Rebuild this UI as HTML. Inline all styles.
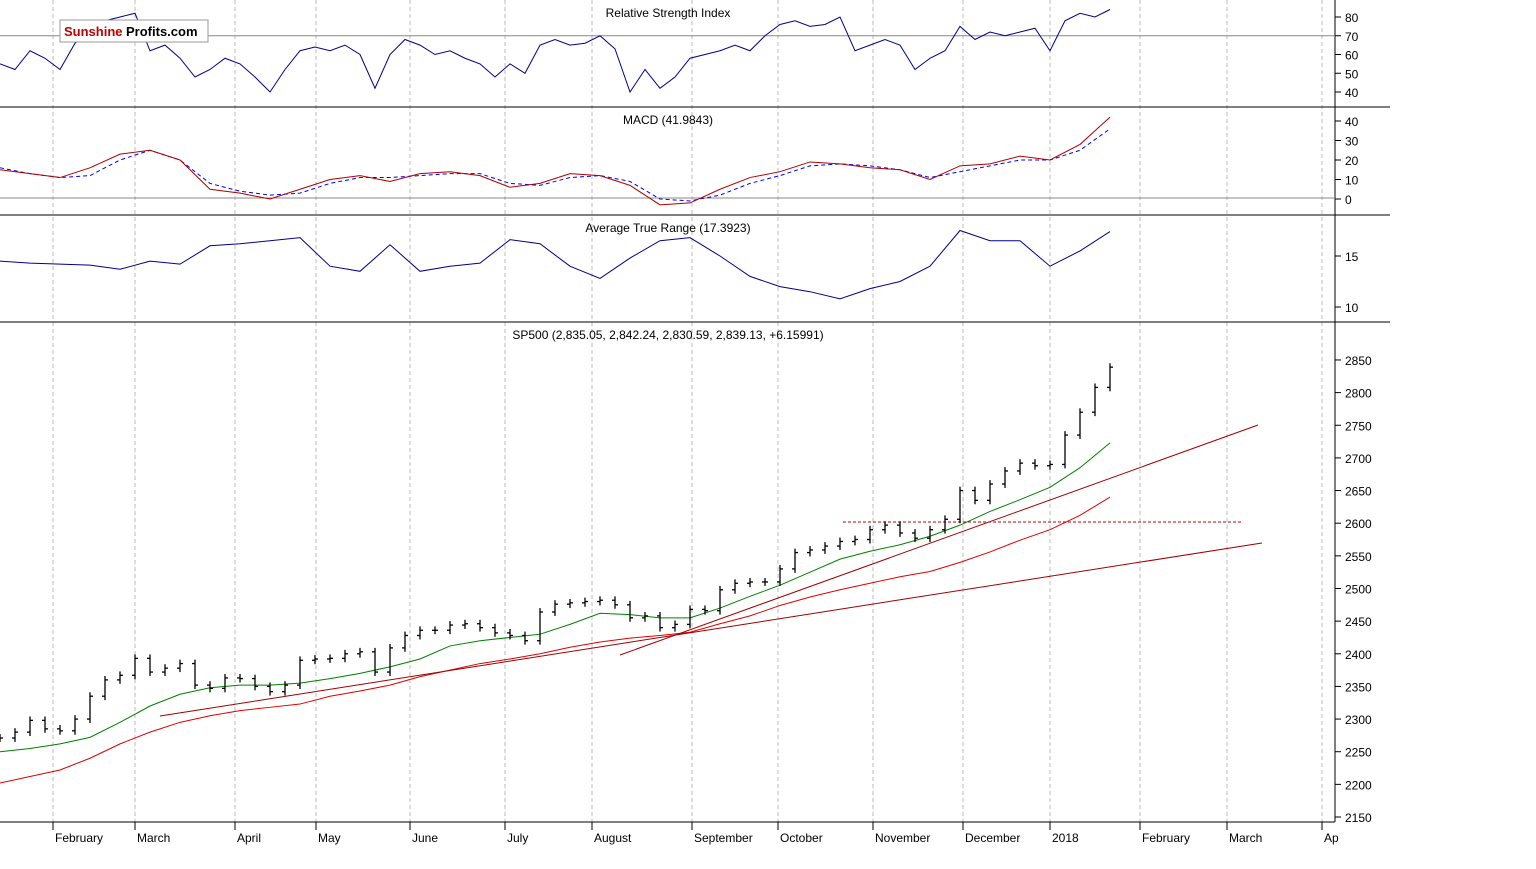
<!DOCTYPE html>
<html><head><meta charset="utf-8"><style>
body{margin:0;background:#fff;font-family:"Liberation Sans",Arial,sans-serif}
svg text{font-family:"Liberation Sans",Arial,sans-serif;font-size:12px;fill:#000}
</style></head><body>
<svg id="c" width="1536" height="864" xmlns="http://www.w3.org/2000/svg"></svg>
<script>
const priceClose=[2271,2280,2298,2285,2282,2300,2335,2360,2367,2393,2372,2378,2385,2352,2347,2363,2362,2350,2342,2352,2390,2392,2393,2400,2403,2372,2409,2428,2436,2436,2444,2446,2440,2432,2428,2420,2464,2476,2478,2480,2482,2475,2455,2458,2440,2445,2468,2466,2498,2508,2510,2510,2530,2555,2559,2565,2572,2575,2590,2597,2585,2577,2590,2606,2650,2635,2660,2680,2692,2688,2690,2735,2770,2808,2839];
const ma50=[2250,2255,2262,2272,2295,2320,2338,2348,2352,2352,2355,2362,2370,2380,2392,2412,2420,2425,2430,2445,2462,2460,2455,2455,2470,2488,2505,2525,2545,2557,2567,2580,2597,2618,2636,2655,2685,2723];
const ma200=[2202,2212,2222,2240,2262,2280,2295,2305,2313,2318,2323,2335,2343,2352,2365,2375,2385,2392,2400,2410,2418,2424,2428,2433,2446,2458,2474,2487,2498,2508,2518,2526,2540,2556,2574,2590,2612,2640];
const rsi=[55,52,62,58,52,66,72,78,80,82,62,65,58,48,52,58,55,48,40,52,62,64,62,65,60,42,60,68,65,60,62,58,55,48,55,50,65,68,65,66,70,63,40,52,42,48,58,60,62,65,62,70,76,78,75,76,80,62,65,68,65,52,58,62,75,68,72,70,72,74,62,78,82,80,84];
const macd=[15,13,11,16,23,25,20,5,3,0,5,10,12,9,13,14,12,6,8,13,12,7,-3,-2,5,11,14,19,18,16,15,10,17,18,22,20,28,42];
const macdSignal=[16,13,11,12,20,25,20,8,4,2,3,8,11,11,12,13,13,8,7,11,12,9,0,-1,2,8,12,17,18,17,15,11,14,17,20,20,25,36];
const atr=[14.5,14.3,14.2,14.1,13.7,14.5,14.2,16.0,16.2,16.5,16.8,14.0,13.5,16.1,13.5,14.0,14.3,16.6,16.2,14.0,12.8,14.8,16.5,16.8,15.0,13.0,12.0,11.5,10.8,11.8,12.5,14.0,17.5,16.5,16.5,14.0,15.5,17.4];
const priceTicks=[2150,2200,2250,2300,2350,2400,2450,2500,2550,2600,2650,2700,2750,2800,2850];
const rsiTicks=[40,50,60,70,80];
const macdTicks=[0,10,20,30,40];
const atrTicks=[10,15];
const months=["February","March","April","May","June","July","August","September","October","November","December","2018","February","March","Ap"];
const monthX=[53,135,235,316,410,505,592,692,778,873,963,1050,1140,1227,1322];

const NS="http://www.w3.org/2000/svg",svg=document.getElementById('c');
function mk(t,a,p){const e=document.createElementNS(NS,t);for(const k in a)e.setAttribute(k,a[k]);(p||svg).appendChild(e);return e;}
const yP=v=>817-(v-2150)*0.6529, yR=v=>17+(80-v)*1.875, yM=v=>199-v*1.95, yA=v=>256-(v-15)*10.2;
const x15=i=>i*15, x30=i=>i*30;
monthX.forEach((x,i)=>{const l=mk('line',{x1:x,y1:0,x2:x,y2:822,stroke:'#bbb','stroke-dasharray':'4,3'});

});
[107,215,322].forEach(y=>{const l=mk('line',{x1:0,y1:y,x2:1390,y2:y,stroke:'#000'});

});
mk('line',{x1:0,y1:822,x2:1335,y2:822,stroke:'#000'});
mk('line',{x1:1335,y1:0,x2:1335,y2:822,stroke:'#000'});
mk('line',{x1:0,y1:yR(70),x2:1335,y2:yR(70),stroke:'#888'});
mk('line',{x1:0,y1:yM(0)-1,x2:1335,y2:yM(0)-1,stroke:'#888'});
monthX.forEach((x,i)=>{mk('line',{x1:x,y1:822,x2:x,y2:830,stroke:'#000'});
const t=mk('text',{x:x+2,y:842});t.textContent=months[i];

});
function ticks(arr,f,name){arr.forEach(v=>{const y=f(v);mk('line',{x1:1335,y1:y,x2:1341,y2:y,stroke:'#000'});
const t=mk('text',{x:1345,y:y+5});t.textContent=v;

});}
ticks(priceTicks,yP,'price-tick');ticks(rsiTicks,yR,'rsi-tick');ticks(macdTicks,yM,'macd-tick');ticks(atrTicks,yA,'atr-tick');
function line(arr,fx,fy,st,name,dash){const p=arr.map((v,i)=>fx(i)+','+fy(v)).join(' ');
const l=mk('polyline',{points:p,fill:'none',stroke:st,'stroke-width':1});if(dash)l.setAttribute('stroke-dasharray',dash);

}
line(rsi,x15,yR,'#00008b','rsi-line');
line(macdSignal,x30,yM,'#0000ff','macd-signal-line','4,3');
line(macd,x30,yM,'#b00000','macd-line');
line(atr,x30,yA,'#00008b','atr-line');
line(ma200,x30,yP,'#e00000','ma200-line');
line(ma50,x30,yP,'#008000','ma50-line');
[[160,716,1262,543],[620,655,1258,425]].forEach(a=>{const l=mk('line',{x1:a[0],y1:a[1],x2:a[2],y2:a[3],stroke:'#a00000','stroke-width':1});

});
const hl=mk('line',{x1:843,y1:522,x2:1243,y2:522,stroke:'#c00000','stroke-dasharray':'3,2'});


priceClose.forEach((v,i)=>{const x=x15(i),pr=i?priceClose[i-1]:v;const hi=Math.max(v,pr)+6,lo=Math.min(v,pr)-6;
const g=mk('g',{stroke:'#000','stroke-width':1.3});


mk('line',{x1:x,y1:yP(hi),x2:x,y2:yP(lo)},g);mk('line',{x1:x-3,y1:yP(pr),x2:x,y2:yP(pr)},g);mk('line',{x1:x,y1:yP(v),x2:x+3,y2:yP(v)},g);});
[[668,17,'Relative Strength Index','rsi-title'],[668,124,'MACD (41.9843)','macd-title'],[668,232,'Average True Range (17.3923)','atr-title'],[668,339,'SP500 (2,835.05, 2,842.24, 2,830.59, 2,839.13, +6.15991)','price-title']].forEach(a=>{
const t=mk('text',{x:a[0],y:a[1],'text-anchor':'middle'});t.textContent=a[2];

});
const lg=mk('g',{});


mk('rect',{x:60,y:20,width:148,height:22,fill:'#fff',stroke:'#999'},lg);
const t1=mk('text',{x:64,y:36,style:'font-weight:bold;fill:#c00000;font-size:13px'},lg);t1.textContent='Sunshine';
mk('rect',{x:124,y:22,width:82,height:18,fill:'#fff'},lg);
const t2=mk('text',{x:126,y:36,style:'font-weight:bold;font-size:13px'},lg);t2.textContent='Profits.com';
</script>
</body></html>
